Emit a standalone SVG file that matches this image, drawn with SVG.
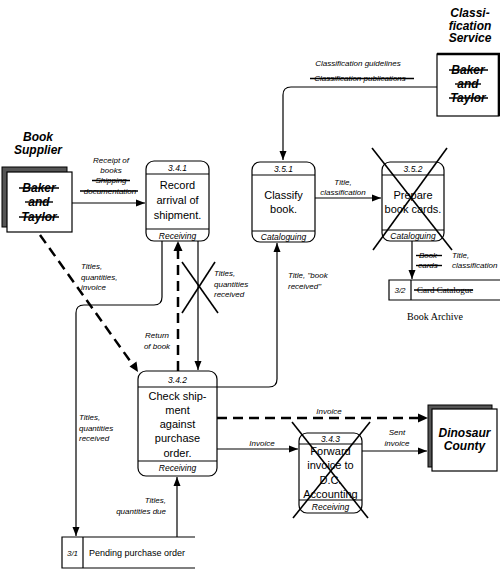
<svg xmlns="http://www.w3.org/2000/svg" width="500" height="570" viewBox="0 0 500 570">
<defs>
<marker id="ah" markerUnits="userSpaceOnUse" markerWidth="10" markerHeight="8" refX="9" refY="4" orient="auto">
<path d="M0,0.5 L9,4 L0,7.5 Z" fill="#000"/>
</marker>
<style>
.proc{fill:#fff;stroke:#000;stroke-width:1.2}
.div{stroke:#000;stroke-width:1.2}
.ptxt{font-family:"Liberation Sans",Arial,sans-serif;font-size:11px;text-anchor:middle;fill:#000}
.pid{font-family:"Liberation Sans",Arial,sans-serif;font-size:8.5px;font-style:italic;text-anchor:middle;fill:#000}
.lbl{font-family:"Liberation Sans",Arial,sans-serif;font-size:8px;font-style:italic;fill:#000}
.ent{font-family:"Liberation Sans",Arial,sans-serif;font-size:12px;font-style:italic;font-weight:bold;text-anchor:middle;fill:#000}
.strike{stroke:#000;stroke-width:1.4}
.c{fill:none;stroke:#000;stroke-width:1.2}
.d{fill:none;stroke:#000;stroke-width:2.5;stroke-dasharray:10,6}
.x{stroke:#000;stroke-width:1.6}
.store{fill:none;stroke:#000;stroke-width:1.2}
</style>
</defs>
<rect width="500" height="570" fill="#fff"/>

<g id="connectors">
<path class="c" d="M72,203 H145" marker-end="url(#ah)"/>
<path class="c" d="M437,87 H291 Q283,87 283,95 V160" marker-end="url(#ah)"/>
<path class="c" d="M315,198 H381" marker-end="url(#ah)"/>
<path class="c" d="M412,241 V279" marker-end="url(#ah)"/>
<path class="c" d="M162,241 V297 Q162,305 154,305 H84 Q76,305 76,313 V536" marker-end="url(#ah)"/>
<path class="d" d="M178,371 V246"/>
<path d="M178,241 L173.5,251 L182.5,251 Z" fill="#000"/>
<path class="c" d="M198,241 V370" marker-end="url(#ah)"/>
<path class="d" d="M40,235 L133,365"/>
<path d="M138,372 L129.5,366.5 L136.5,361.5 Z" fill="#000"/>
<path class="c" d="M217,387 H269 Q277,387 277,379 V243" marker-end="url(#ah)"/>
<path class="d" d="M217,418 H420"/>
<path d="M428,418 L418,413.5 L418,422.5 Z" fill="#000"/>
<path class="c" d="M217,449 H298" marker-end="url(#ah)"/>
<path class="c" d="M362,451 H427" marker-end="url(#ah)"/>
<path class="c" d="M177,537 V477" marker-end="url(#ah)"/>

<text class="lbl" x="358" y="66" text-anchor="middle">Classification guidelines</text>
<text class="lbl" x="360" y="81" text-anchor="middle">Classification publications</text>
<line class="strike" x1="310" y1="78.5" x2="414" y2="78.5"/>

<text class="lbl" x="111" y="163" text-anchor="middle">Receipt of</text>
<text class="lbl" x="111" y="173" text-anchor="middle">books</text>
<text class="lbl" x="111" y="183" text-anchor="middle">Shipping</text>
<line class="strike" x1="92" y1="180.5" x2="130" y2="180.5"/>
<text class="lbl" x="110" y="194" text-anchor="middle">documentation</text>
<line class="strike" x1="80" y1="191" x2="138" y2="191"/>

<text class="lbl" x="343" y="185" text-anchor="middle">Title,</text>
<text class="lbl" x="343" y="195" text-anchor="middle">classification</text>

<text class="lbl" x="428" y="258" text-anchor="middle">Book</text>
<line class="strike" x1="416" y1="255.5" x2="442" y2="255.5"/>
<text class="lbl" x="428" y="268" text-anchor="middle">cards</text>
<line class="strike" x1="416" y1="265.5" x2="442" y2="265.5"/>
<text class="lbl" x="452" y="258">Title,</text>
<text class="lbl" x="452" y="268">classification</text>

<text class="lbl" x="81" y="269">Titles,</text>
<text class="lbl" x="81" y="280">quantities,</text>
<text class="lbl" x="81" y="290">invoice</text>

<line class="x" x1="182" y1="262" x2="218" y2="313"/>
<line class="x" x1="215" y1="262" x2="182" y2="313"/>
<text class="lbl" x="214" y="276">Titles,</text>
<text class="lbl" x="214" y="287">quantities</text>
<text class="lbl" x="214" y="297">received</text>

<text class="lbl" x="288" y="278">Title, "book</text>
<text class="lbl" x="288" y="289">received"</text>

<text class="lbl" x="157" y="338" text-anchor="middle">Return</text>
<text class="lbl" x="157" y="349" text-anchor="middle">of book</text>

<text class="lbl" x="79" y="420">Titles,</text>
<text class="lbl" x="79" y="431">quantities</text>
<text class="lbl" x="79" y="441">received</text>

<text class="lbl" x="329" y="414" text-anchor="middle">Invoice</text>
<text class="lbl" x="262" y="446" text-anchor="middle">Invoice</text>
<text class="lbl" x="397" y="435" text-anchor="middle">Sent</text>
<text class="lbl" x="397" y="446" text-anchor="middle">invoice</text>

<text class="lbl" x="166" y="503" text-anchor="end">Titles,</text>
<text class="lbl" x="166" y="514" text-anchor="end">quantities due</text>
</g>

<g id="classification-service">
<text class="ent" x="470" y="17">Classi-</text>
<text class="ent" x="470" y="29.5">fication</text>
<text class="ent" x="470" y="42">Service</text>
<rect x="437" y="54" width="62" height="62" fill="#fff" stroke="#000" stroke-width="1.2"/>
<path d="M437,54 H499 V116" fill="none" stroke="#000" stroke-width="2.6"/>
<text class="ent" x="468" y="74">Baker</text>
<line class="strike" x1="449" y1="70" x2="488" y2="70"/>
<text class="ent" x="468" y="88">and</text>
<line class="strike" x1="455" y1="84" x2="481" y2="84"/>
<text class="ent" x="468" y="102">Taylor</text>
<line class="strike" x1="449" y1="98" x2="488" y2="98"/>
</g>

<g id="book-supplier">
<text class="ent" x="38" y="141">Book</text>
<text class="ent" x="38" y="154">Supplier</text>
<rect x="2" y="167" width="65" height="60" fill="#555" stroke="#000" stroke-width="1"/>
<rect x="7" y="172" width="65" height="60" fill="#fff" stroke="#000" stroke-width="1.2"/>
<text class="ent" x="39" y="192">Baker</text>
<line class="strike" x1="19" y1="188" x2="59" y2="188"/>
<text class="ent" x="39" y="206">and</text>
<line class="strike" x1="25" y1="202" x2="53" y2="202"/>
<text class="ent" x="39" y="221">Taylor</text>
<line class="strike" x1="19" y1="217" x2="59" y2="217"/>
</g>

<g id="p341">
<rect class="proc" x="146" y="161" width="63" height="80" rx="8"/>
<line class="div" x1="146" y1="174" x2="209" y2="174"/>
<line class="div" x1="146" y1="229" x2="209" y2="229"/>
<text class="pid" x="177.5" y="171">3.4.1</text>
<text class="ptxt" x="177.5" y="189">Record</text>
<text class="ptxt" x="177.5" y="204">arrival of</text>
<text class="ptxt" x="177.5" y="219">shipment.</text>
<text class="pid" x="177.5" y="239">Receiving</text>
</g>

<g id="p351">
<rect class="proc" x="252" y="162" width="63" height="80" rx="8"/>
<line class="div" x1="252" y1="175" x2="315" y2="175"/>
<line class="div" x1="252" y1="231" x2="315" y2="231"/>
<text class="pid" x="283.5" y="172">3.5.1</text>
<text class="ptxt" x="283.5" y="199">Classify</text>
<text class="ptxt" x="283.5" y="213">book.</text>
<text class="pid" x="283.5" y="240">Cataloguing</text>
</g>

<g id="p352">
<rect class="proc" x="382" y="162" width="62" height="79" rx="8"/>
<line class="div" x1="382" y1="175" x2="444" y2="175"/>
<line class="div" x1="382" y1="230" x2="444" y2="230"/>
<text class="pid" x="413" y="172">3.5.2</text>
<text class="ptxt" x="413" y="199">Prepare</text>
<text class="ptxt" x="413" y="213">book cards.</text>
<text class="pid" x="413" y="239">Cataloguing</text>
<line class="x" x1="372" y1="148" x2="452" y2="250"/>
<line class="x" x1="447" y1="148" x2="373" y2="250"/>
</g>

<g id="book-archive">
<path class="store" d="M500,280 H389 V300 H500 M411,280 V300"/>
<text class="lbl" x="400" y="293" text-anchor="middle">3/2</text>
<text x="417" y="293" font-family="'Liberation Serif',serif" font-size="9">Card Catalogue</text>
<line class="strike" x1="414" y1="290" x2="473" y2="290"/>
<text x="435" y="320" font-family="'Liberation Serif',serif" font-size="10" text-anchor="middle">Book Archive</text>
</g>

<g id="p342">
<rect class="proc" x="138" y="371" width="79" height="105" rx="8"/>
<line class="div" x1="138" y1="387" x2="217" y2="387"/>
<line class="div" x1="138" y1="461" x2="217" y2="461"/>
<text class="pid" x="177.5" y="383">3.4.2</text>
<text class="ptxt" x="177.5" y="400">Check ship-</text>
<text class="ptxt" x="177.5" y="414">ment</text>
<text class="ptxt" x="177.5" y="428">against</text>
<text class="ptxt" x="177.5" y="442">purchase</text>
<text class="ptxt" x="177.5" y="457">order.</text>
<text class="pid" x="177.5" y="471">Receiving</text>
</g>

<g id="p343">
<rect class="proc" x="299" y="433" width="63" height="80" rx="8"/>
<line class="div" x1="299" y1="444" x2="362" y2="444"/>
<line class="div" x1="299" y1="500" x2="362" y2="500"/>
<text class="pid" x="330.5" y="442">3.4.3</text>
<text class="ptxt" x="330.5" y="455">Forward</text>
<text class="ptxt" x="330.5" y="469">invoice to</text>
<text class="ptxt" x="330.5" y="484">D.C.</text>
<text class="ptxt" x="330.5" y="498">Accounting</text>
<text class="pid" x="330.5" y="510">Receiving</text>
<line class="x" x1="292" y1="422" x2="368" y2="518"/>
<line class="x" x1="370" y1="422" x2="293" y2="518"/>
</g>

<g id="dinosaur-county">
<rect x="428" y="405" width="64" height="62" fill="#555" stroke="#000" stroke-width="1"/>
<rect x="432" y="409" width="65" height="62" fill="#fff" stroke="#000" stroke-width="1.2"/>
<text class="ent" x="464.5" y="437">Dinosaur</text>
<text class="ent" x="464.5" y="450">County</text>
</g>

<g id="pending-po">
<path class="store" d="M195,537 H62 V568 H195 M83,537 V568"/>
<text class="lbl" x="72.5" y="556" text-anchor="middle">3/1</text>
<text x="89" y="556" font-family="'Liberation Sans',Arial,sans-serif" font-size="9">Pending purchase order</text>
</g>
</svg>
